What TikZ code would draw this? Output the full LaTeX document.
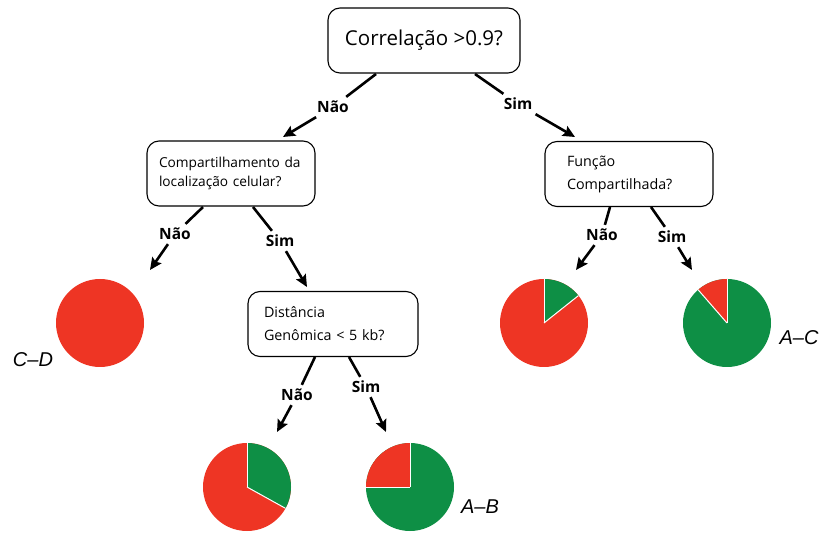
\documentclass[tikz,border=0pt]{standalone}
\usepackage{fontspec}
\setmainfont{Open Sans}
\newfontfamily\lblfont{Liberation Sans}
\usetikzlibrary{arrows.meta}
\definecolor{pred}{HTML}{EE3524}
\definecolor{pgreen}{HTML}{0E8F45}
\begin{document}
\begin{tikzpicture}[x=1pt,y=-1pt,
  qbox/.style={draw, line width=1.1pt, rounded corners=12pt, minimum height=65pt, font=\fontsize{14.3}{23}\selectfont, align=left},
  ans/.style={font=\bfseries\fontsize{15.5}{18}\selectfont, inner sep=4pt},
  seg/.style={line width=2.6pt},
  arr/.style={line width=2.6pt, -{Stealth[length=12pt,width=11pt,inset=2pt]}},
  pielbl/.style={font=\lblfont\itshape\fontsize{20}{24}\selectfont},
  divide/.style={white, line width=1pt}]
\useasboundingbox (0,0) rectangle (825,545);
% question boxes
\node[qbox, minimum width=192pt, align=center, font=\fontsize{20.5}{24}\selectfont] (top) at (424,40.5) {Correla\c{c}\~ao >0.9?};
\node[qbox, minimum width=168pt, text width=150pt, inner xsep=9pt, font=\fontsize{13.7}{19}\selectfont] (left) at (231,173.5) {\hspace*{3pt}Compartilhamento da\\\hspace*{3pt}localiza\c{c}\~ao celular?};
\node[qbox, minimum width=168pt, text width=124pt, inner xsep=22pt] (right) at (629,174) {Fun\c{c}\~ao\\Compartilhada?};
\node[qbox, minimum width=170pt, text width=138pt, inner xsep=16pt] (mid) at (333,324) {Dist\^ancia\\Gen\^omica < 5 kb?};
% pies
\node[circle, fill=pred, minimum size=88pt, inner sep=0pt] (pcd) at (100,323) {};
\node[circle, fill=pred, minimum size=88pt, inner sep=0pt] (prn) at (544,323) {};
\fill[pgreen] (prn.center) -- ++(-90:44) arc[start angle=-90, end angle=-38.5, radius=44] -- cycle;
\draw[divide] (prn.center) -- ++(-90:44); \draw[divide] (prn.center) -- ++(-38.5:44);
\node[circle, fill=pgreen, minimum size=88pt, inner sep=0pt] (prs) at (727,323) {};
\fill[pred] (prs.center) -- ++(-131:44) arc[start angle=-131, end angle=-90, radius=44] -- cycle;
\draw[divide] (prs.center) -- ++(-90:44); \draw[divide] (prs.center) -- ++(-131:44);
\node[circle, fill=pred, minimum size=88pt, inner sep=0pt] (pmn) at (247,487) {};
\fill[pgreen] (pmn.center) -- ++(-90:44) arc[start angle=-90, end angle=29, radius=44] -- cycle;
\draw[divide] (pmn.center) -- ++(-90:44); \draw[divide] (pmn.center) -- ++(29:44);
\node[circle, fill=pgreen, minimum size=88pt, inner sep=0pt] (pms) at (410,487) {};
\fill[pred] (pms.center) -- ++(-180:44) arc[start angle=-180, end angle=-90, radius=44] -- cycle;
\draw[divide] (pms.center) -- ++(-90:44); \draw[divide] (pms.center) -- ++(-180:44);
% pie labels
\node[pielbl] (lcd) at (33,360) {C–D};
\node[pielbl] (lab) at (480,507) {A–B};
\node[pielbl] (lac) at (799,338) {A–C};
% connector coordinates
\coordinate (s1) at (376,74); \coordinate (e1) at (283,137);
\coordinate (s2) at (475,74); \coordinate (e2) at (575,137);
\coordinate (s3) at (203,207); \coordinate (e3) at (150,270);
\coordinate (s4) at (253,207); \coordinate (e4) at (307,287);
\coordinate (s5) at (610,207); \coordinate (e5) at (576,270);
\coordinate (s6) at (651,207); \coordinate (e6) at (692,270);
\coordinate (s7) at (315,357); \coordinate (e7) at (277,432);
\coordinate (s8) at (349,357); \coordinate (e8) at (386,432);
% answer labels
\node[ans] (a1) at (333,107) {N\~ao};
\node[ans] (a2) at (518,104) {Sim};
\node[ans] (a3) at (175,234) {N\~ao};
\node[ans] (a4) at (280,241) {Sim};
\node[ans] (a5) at (602,235) {N\~ao};
\node[ans] (a6) at (672,237) {Sim};
\node[ans] (a7) at (297,395) {N\~ao};
\node[ans] (a8) at (366,387) {Sim};
% connectors
\foreach \i in {1,...,8}{
  \draw[seg] (s\i) -- (a\i);
  \draw[arr] (a\i) -- (e\i);
}
\end{tikzpicture}
\end{document}
